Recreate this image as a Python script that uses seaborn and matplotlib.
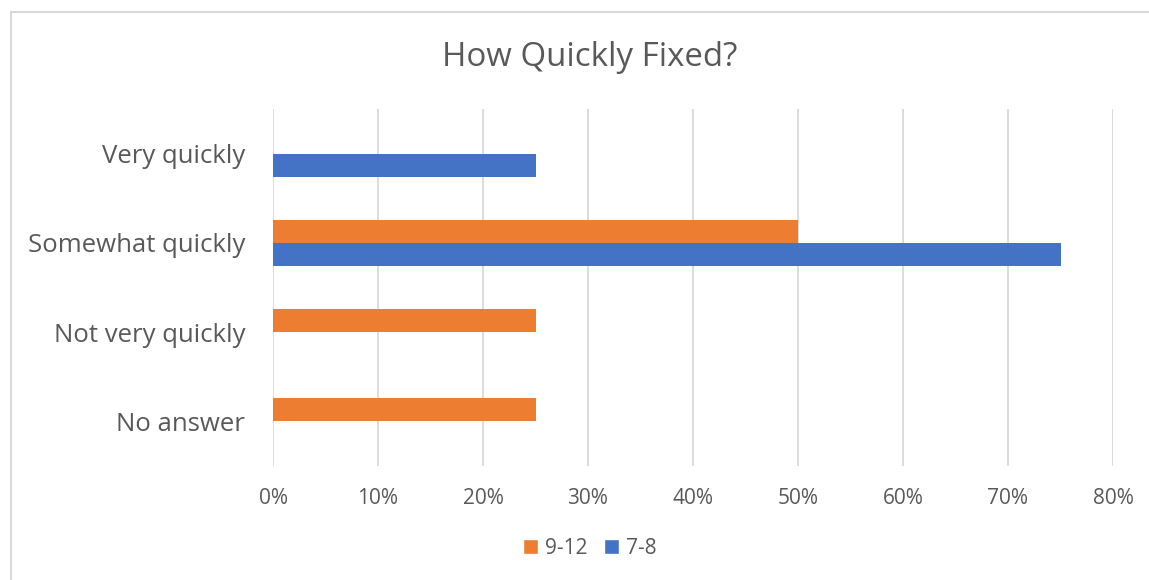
import pandas as pd
import matplotlib.pyplot as plt
import seaborn as sns
from matplotlib.lines import Line2D
from matplotlib.patches import Patch
from matplotlib.ticker import PercentFormatter

categories = ['Very quickly', 'Somewhat quickly', 'Not very quickly', 'No answer']
grades = ['9-12', '7-8']
share_9_12 = [0.0, 0.50, 0.25, 0.25]
share_7_8 = [0.25, 0.75, 0.0, 0.0]
x_ticks = [0.0, 0.1, 0.2, 0.3, 0.4, 0.5, 0.6, 0.7, 0.8]

colors = {'9-12': '#ED7D31', '7-8': '#4472C4'}
text_color = '#595959'
grid_color = '#D9D9D9'

df = pd.DataFrame({
    'Answer': categories * 2,
    'Grade': ['9-12'] * len(categories) + ['7-8'] * len(categories),
    'Share': share_9_12 + share_7_8,
})

sns.set_theme(style='white')
plt.rcParams['font.family'] = ['Open Sans', 'DejaVu Sans']

fig = plt.figure(figsize=(11.49, 5.8), dpi=100)
ax = fig.add_axes([273 / 1149, 1 - 466 / 580, 840 / 1149, 357 / 580])

sns.barplot(data=df, y='Answer', x='Share', hue='Grade', order=categories,
            hue_order=grades, palette=colors, width=0.52, orient='h',
            ax=ax, legend=False, saturation=1, linewidth=0)

ax.set_xlim(0, 0.8)
ax.set_xticks(x_ticks)
ax.xaxis.set_major_formatter(PercentFormatter(1.0, decimals=0))
ax.grid(axis='x', color=grid_color, linewidth=1.3)
ax.set_axisbelow(True)
for s in ax.spines.values():
    s.set_visible(False)
ax.tick_params(axis='both', length=0, colors=text_color)
ax.tick_params(axis='x', pad=16, labelsize=15)
ax.tick_params(axis='y', pad=20, labelsize=18.5)
ax.set_xlabel('')
ax.set_ylabel('')

fig.text(0.513, 1 - 58 / 580, 'How Quickly Fixed?', ha='center', va='center',
         fontsize=23.8, color=text_color)

handles = [Patch(facecolor=colors[g], label=g) for g in grades]
fig.legend(handles=handles, loc='center', bbox_to_anchor=(0.513, 1 - 548 / 580),
           ncol=2, frameon=False, fontsize=15, labelcolor=text_color,
           handlelength=0.75, handleheight=0.75, handletextpad=0.3,
           columnspacing=0.8)

# chart border (left and top edges visible in the crop)
x0, y0 = 11 / 1149, 1 - 12 / 580
fig.add_artist(Line2D([x0, x0], [0, y0], color=grid_color, linewidth=1.5))
fig.add_artist(Line2D([x0, 1], [y0, y0], color=grid_color, linewidth=1.5))

fig.savefig('out.png', dpi=100)
